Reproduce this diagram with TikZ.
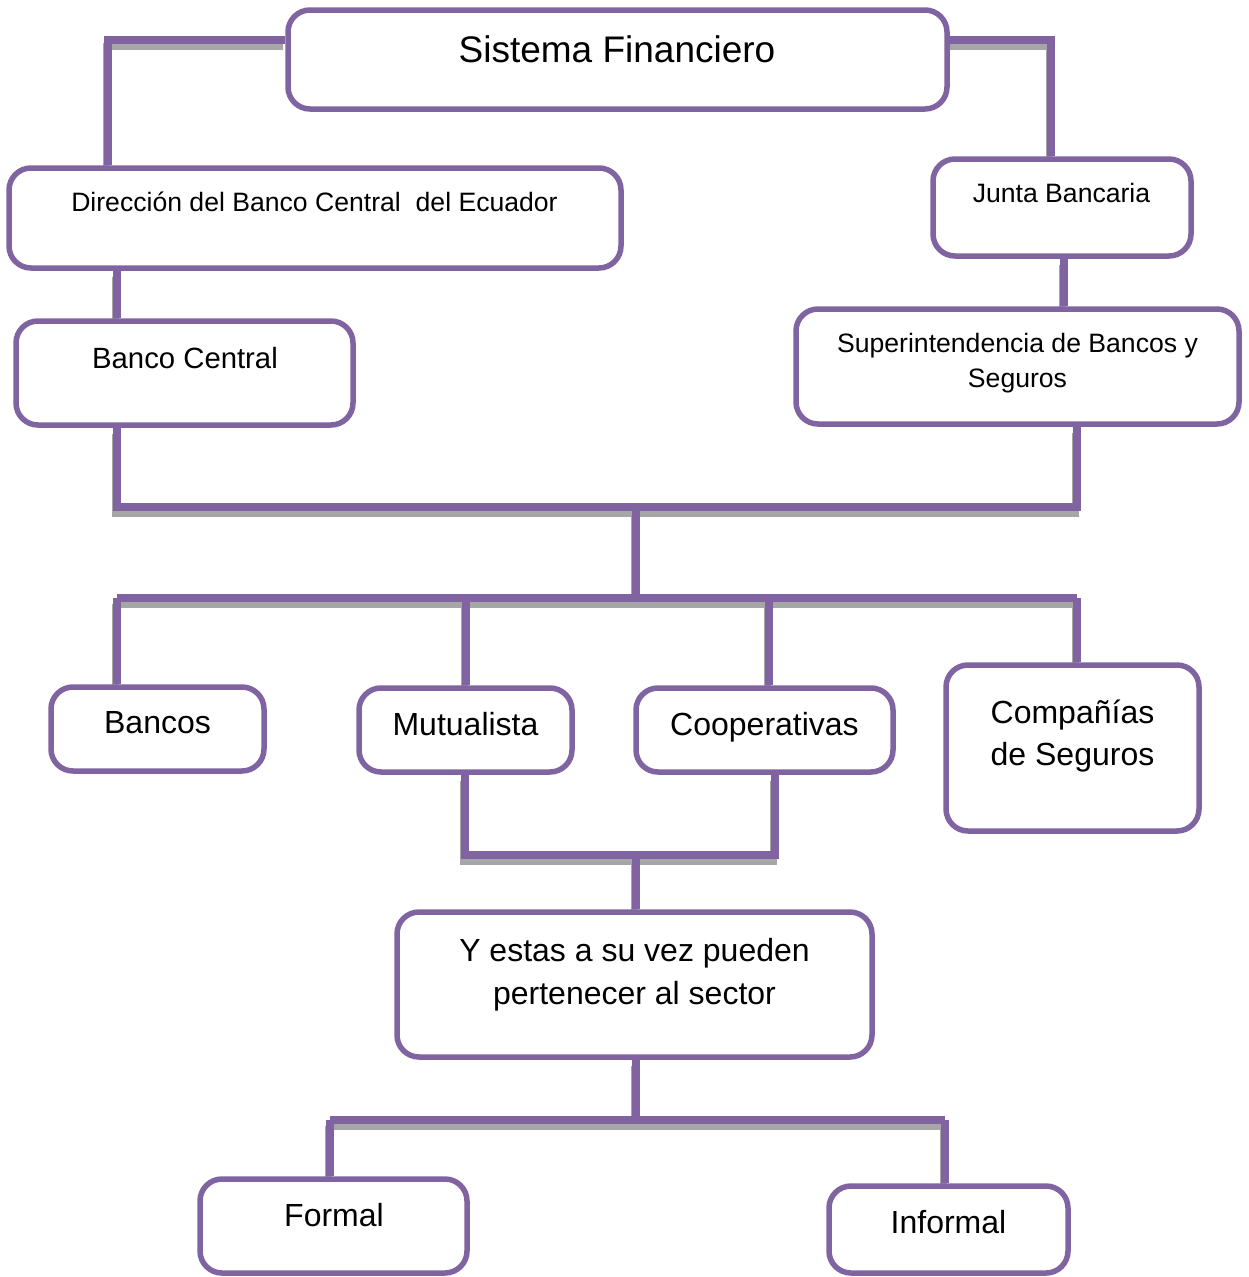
\documentclass[tikz,border=0pt]{standalone}
\usepackage{fontspec}
\setmainfont{Liberation Sans}
\definecolor{vio}{HTML}{8064A2}
\definecolor{shd}{HTML}{A6A6A6}
\pgfdeclarelayer{back}
\pgfdeclarelayer{bg}
\pgfsetlayers{back,bg,main}
\tikzset{
  box/.style={draw=vio, line width=5.5pt, rounded corners=22pt, fill=white, inner sep=0pt},
  conn/.style={draw=vio, line width=8pt},
  shad/.style={draw=shd, line width=7pt, transform canvas={xshift=-2pt, yshift=-6pt}},
  lbl/.style={anchor=base, inner sep=0pt, text=black},
  fbig/.style={font=\fontsize{37}{44}\selectfont},
  fmid/.style={font=\fontsize{32}{38}\selectfont},
  fbc/.style={font=\fontsize{29.3}{35}\selectfont},
  fsm/.style={font=\fontsize{26.6}{32}\selectfont}
}
\begin{document}
\begin{tikzpicture}[x=1pt,y=-1pt]
\begin{pgfonlayer}{back}
\fill[white] (0,0) rectangle (1248,1277);
\end{pgfonlayer}
\useasboundingbox (0,0) rectangle (1248,1277);
% boxes
\node[box, minimum width=659pt, minimum height=99pt]  (sf)   at (617.5,59.5) {};
\node[box, minimum width=612pt, minimum height=100pt] (dir)  at (315,218) {};
\node[box, minimum width=258pt, minimum height=97pt]  (jb)   at (1062,207.5) {};
\node[box, minimum width=337pt, minimum height=104pt] (bc)   at (184.5,373) {};
\node[box, minimum width=443pt, minimum height=115pt] (sup)  at (1017.5,366.5) {};
\node[box, minimum width=213pt, minimum height=84pt]  (ban)  at (157.5,729) {};
\node[box, minimum width=213pt, minimum height=84pt]  (mut)  at (465.5,730) {};
\node[box, minimum width=257pt, minimum height=84pt]  (coop) at (764.5,730) {};
\node[box, minimum width=253pt, minimum height=166pt] (comp) at (1072.5,748) {};
\node[box, minimum width=475pt, minimum height=145pt] (yes)  at (634.5,984.5) {};
\node[box, minimum width=267pt, minimum height=94pt]  (for)  at (333.5,1226) {};
\node[box, minimum width=239pt, minimum height=87pt]  (inf)  at (948.5,1229.5) {};
% texts
\node[lbl, fbig] (sf-t)   at (617,62)      {Sistema Financiero};
\node[lbl, fsm]  (dir-t)  at (314.5,211.5) {Dirección del Banco Central\ \ del Ecuador};
\node[lbl, fsm]  (jb-t)   at (1061.5,202.5){Junta Bancaria};
\node[lbl, fbc]  (bc-t)   at (185,368.5)   {Banco Central};
\node[lbl, fsm]  (sup-t1) at (1017.5,352.5){Superintendencia de Bancos y};
\node[lbl, fsm]  (sup-t2) at (1017.5,387.5){Seguros};
\node[lbl, fmid] (ban-t)  at (157.5,733.5) {Bancos};
\node[lbl, fmid] (mut-t)  at (465.5,735.5) {Mutualista};
\node[lbl, fmid] (coop-t) at (764.5,735.5) {Cooperativas};
\node[lbl, fmid] (comp-t1) at (1072.5,723.5){Compañías};
\node[lbl, fmid] (comp-t2) at (1072.5,765.5){de Seguros};
\node[lbl, fmid] (yes-t1) at (634.5,961.5) {Y estas a su vez pueden};
\node[lbl, fmid] (yes-t2) at (634.5,1004.5){pertenecer al sector};
\node[lbl, fmid] (for-t)  at (334,1226.7)  {Formal};
\node[lbl, fmid] (inf-t)  at (948.5,1233)  {Informal};
% junction coordinates
\coordinate (tl) at (108,40);
\coordinate (tr) at (1051,40);
\coordinate (b1l) at (117,507);
\coordinate (b1r) at (1077,507);
\coordinate (b1) at (636,507);
\coordinate (b2) at (636,598);
\coordinate (b2l) at (117,598);
\coordinate (b2m) at (466,598);
\coordinate (b2n) at (769,598);
\coordinate (b2r) at (1077,598);
\coordinate (b3l) at (465,855);
\coordinate (b3r) at (775,855);
\coordinate (b3) at (636,855);
\coordinate (b4) at (636,1120);
\coordinate (b4l) at (330,1120);
\coordinate (b4r) at (945,1120);
\coordinate (xa) at (117,0);
\coordinate (xb) at (1064,0);
\begin{pgfonlayer}{bg}
\foreach \s in {shad,conn}{
  \draw[\s] (tl -| sf.west) -- (tl) -- (tl |- dir.north);
  \draw[\s] (tr -| sf.east) -- (tr) -- (tr |- jb.north);
  \draw[\s] (xa |- dir.south) -- (xa |- bc.north);
  \draw[\s] (xb |- jb.south) -- (xb |- sup.north);
  \draw[\s] (b1l |- bc.south) -- (b1l) -- (b1r) -- (b1r |- sup.south);
  \draw[\s] (b1) -- (b2);
  \draw[\s] (b2l) -- (b2r);
  \draw[\s] (b2l) -- (b2l |- ban.north);
  \draw[\s] (b2m) -- (b2m |- mut.north);
  \draw[\s] (b2n) -- (b2n |- coop.north);
  \draw[\s] (b2r) -- (b2r |- comp.north);
  \draw[\s] (b3l |- mut.south) -- (b3l) -- (b3r) -- (b3r |- coop.south);
  \draw[\s] (b3) -- (b3 |- yes.north);
  \draw[\s] (b4 |- yes.south) -- (b4);
  \draw[\s] (b4l) -- (b4r);
  \draw[\s] (b4l) -- (b4l |- for.north);
  \draw[\s] (b4r) -- (b4r |- inf.north);
}
\end{pgfonlayer}
\end{tikzpicture}
\end{document}
